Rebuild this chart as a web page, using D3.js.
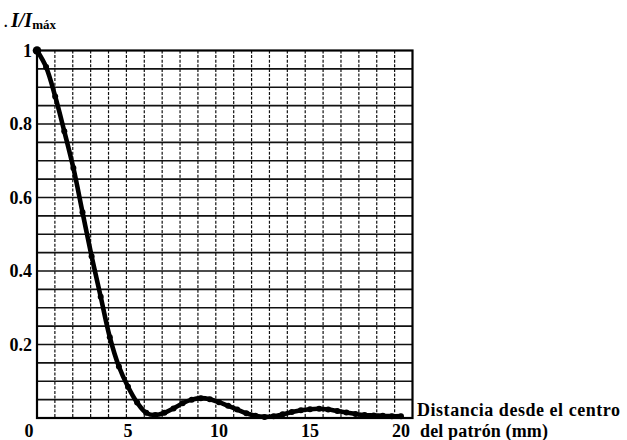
<!DOCTYPE html>
<html>
<head>
<meta charset="utf-8">
<script src="https://cdn.jsdelivr.net/npm/d3@7"></script>
<style>
  body { margin: 0; background: #fff; }
  text { font-family: "Liberation Serif", "DejaVu Serif", serif; fill: #000; }
</style>
</head>
<body>
<div id="chart"></div>
<script>
// distancia desde el centro (mm) and I/Imax
var distance = [0, 0.5, 1, 1.5, 2, 2.5, 3, 3.5, 4, 4.5, 5, 5.5, 6, 6.5, 7, 7.5, 8, 8.5, 9, 9.5, 10,
  10.5, 11, 11.5, 12, 12.5, 13, 13.5, 14, 14.5, 15, 15.5, 16, 16.5, 17, 17.5, 18, 18.5, 19, 19.5, 20];
var intensity = [1.0, 0.955, 0.875, 0.78, 0.68, 0.56, 0.44, 0.33, 0.22, 0.14, 0.085, 0.042, 0.014, 0.008, 0.014, 0.026, 0.04, 0.05, 0.054, 0.051, 0.043,
  0.033, 0.023, 0.013, 0.006, 0.003, 0.005, 0.01, 0.016, 0.021, 0.024, 0.025, 0.023, 0.019, 0.015, 0.011, 0.008, 0.007, 0.006, 0.005, 0.005];

var xTicks = [0, 5, 10, 15, 20];
var yTicks = [0.2, 0.4, 0.6, 0.8, 1];
var yTickLabels = ["0.2", "0.4", "0.6", "0.8", "1"];
var gridCols = 21;
var gridRows = 20;

var width = 627;
var height = 440;

var svg = d3.select("#chart").append("svg")
  .attr("width", width)
  .attr("height", height);

var x = d3.scaleLinear().domain([0, 20]).range([37, 401]);
var y = d3.scaleLinear().domain([0, 1]).range([418, 50.5]);
// the printed grid has one more column than the axis span
var gx = d3.scaleLinear().domain([0, gridCols]).range([37, 412.5]);
var gy = d3.scaleLinear().domain([0, gridRows]).range([418, 50.5]);

var grid = svg.append("g");

// vertical grid lines, dashed
grid.selectAll("line.v")
  .data(d3.range(1, gridCols))
  .join("line")
    .attr("class", "v")
    .attr("x1", d => gx(d)).attr("x2", d => gx(d))
    .attr("y1", gy(gridRows)).attr("y2", gy(0))
    .attr("stroke", "#111")
    .attr("stroke-width", 1.2)
    .attr("stroke-dasharray", "3,1.6");

// horizontal grid lines, solid
grid.selectAll("line.h")
  .data(d3.range(1, gridRows))
  .join("line")
    .attr("class", "h")
    .attr("x1", gx(0)).attr("x2", gx(gridCols))
    .attr("y1", d => gy(d)).attr("y2", d => gy(d))
    .attr("stroke", "#111")
    .attr("stroke-width", 1.6);

grid.append("rect")
  .attr("x", gx(0))
  .attr("y", gy(gridRows))
  .attr("width", gx(gridCols) - gx(0))
  .attr("height", gy(0) - gy(gridRows))
  .attr("fill", "none")
  .attr("stroke", "#000")
  .attr("stroke-width", 2.2);

// curve
var pts = distance.map((d, i) => [d, intensity[i]]);
var line = d3.line()
  .x(d => x(d[0]))
  .y(d => y(d[1]))
  .curve(d3.curveCatmullRom.alpha(0.5));

svg.append("path")
  .datum(pts)
  .attr("fill", "none")
  .attr("stroke", "#000")
  .attr("stroke-width", 4.6)
  .attr("stroke-linejoin", "round")
  .attr("stroke-linecap", "round")
  .attr("d", line);

svg.append("g")
  .selectAll("circle")
  .data(pts)
  .join("circle")
    .attr("cx", d => x(d[0]))
    .attr("cy", d => y(d[1]))
    .attr("r", (d, i) => i == 0 ? 4.3 : 3)
    .attr("fill", "#000");

// tick labels
svg.append("g")
  .selectAll("text")
  .data(xTicks)
  .join("text")
    .attr("x", d => x(d) + (d == 0 ? -8 : 0))
    .attr("y", 437)
    .attr("text-anchor", "middle")
    .attr("font-size", 18)
    .attr("font-weight", "bold")
    .text(d => d);

svg.append("g")
  .selectAll("text")
  .data(yTicks)
  .join("text")
    .attr("x", 32)
    .attr("y", d => y(d))
    .attr("dy", "0.36em")
    .attr("text-anchor", "end")
    .attr("font-size", 18)
    .attr("font-weight", "bold")
    .text((d, i) => yTickLabels[i]);

// y title
var yt = svg.append("text")
  .attr("x", 4)
  .attr("y", 26.5)
  .attr("font-weight", "bold");
yt.append("tspan").attr("font-size", 14).text(". ");
yt.append("tspan").attr("font-size", 20).attr("font-style", "italic").text("I/I");
yt.append("tspan").attr("font-size", 13).attr("dy", 2).text("máx");

// x title
svg.append("text")
  .attr("x", 417)
  .attr("y", 416)
  .attr("font-size", 18)
  .attr("font-weight", "bold")
  .attr("textLength", 203)
  .text("Distancia desde el centro");
svg.append("text")
  .attr("x", 420)
  .attr("y", 437)
  .attr("font-size", 18)
  .attr("font-weight", "bold")
  .attr("textLength", 128)
  .text("del patrón (mm)");
</script>
</body>
</html>
